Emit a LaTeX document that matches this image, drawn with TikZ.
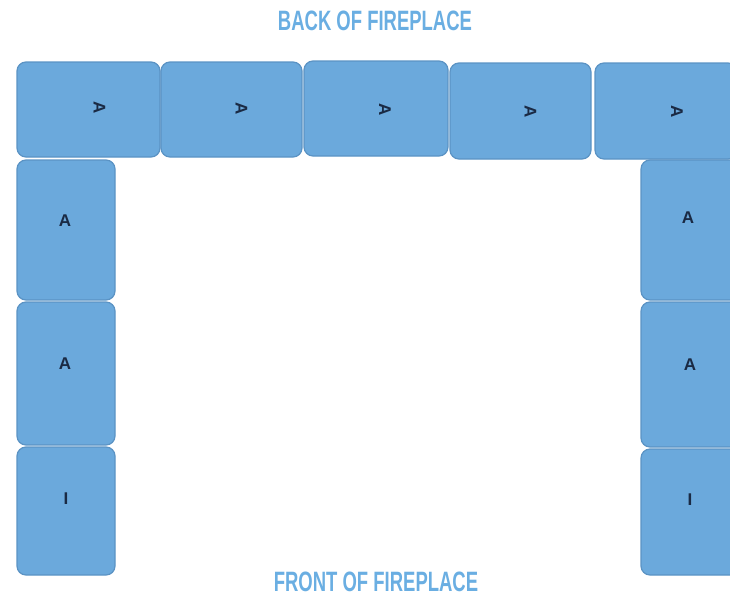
\documentclass[tikz,border=0pt]{standalone}
\usepackage{fontspec}
\setsansfont{Liberation Sans}
\newfontfamily\titlefont[FakeStretch=0.66]{Liberation Sans}
\definecolor{brickfill}{HTML}{6BA9DC}
\definecolor{brickline}{HTML}{5B93C4}
\definecolor{titleblue}{HTML}{6AAEE2}
\definecolor{tagcolor}{HTML}{1A2A44}
\begin{document}
\begin{tikzpicture}[x=1pt,y=-1pt,
        brick/.style={draw=brickline,fill=brickfill,line width=1.2pt,
            rounded corners=9pt,inner sep=0pt},
        tagtop/.style={font=\sffamily\bfseries\fontsize{17}{17}\selectfont,
            text=tagcolor,rotate=-90,inner sep=0pt},
        tagside/.style={font=\sffamily\bfseries\fontsize{17}{17}\selectfont,
            text=tagcolor,inner sep=0pt},
        heading/.style={font=\titlefont\bfseries\fontsize{28}{28}\selectfont,
            text=titleblue,inner sep=0pt}]
\useasboundingbox (0,0) rectangle (730,597);
\clip (0,0) rectangle (730,597);

\node[heading] (back) at (375,21) {BACK OF FIREPLACE};
\node[heading] (front) at (376,582) {FRONT OF FIREPLACE};

% back row
\node[brick, minimum width=143, minimum height=95] (back1) at (88.5,109.5) {};
\node[brick, minimum width=141, minimum height=95] (back2) at (231.5,109.5) {};
\node[brick, minimum width=144, minimum height=95] (back3) at (376,108.5) {};
\node[brick, minimum width=141, minimum height=96] (back4) at (520.5,111) {};
\node[brick, minimum width=142, minimum height=96] (back5) at (666,111) {};

\node[tagtop] (tb1) at ([xshift=11pt,yshift=2pt]back1.center) {A};
\node[tagtop] (tb2) at ([xshift=10pt,yshift=1pt]back2.center) {A};
\node[tagtop] (tb3) at ([xshift=9pt,yshift=-1pt]back3.center) {A};
\node[tagtop] (tb4) at ([xshift=10pt,yshift=-1pt]back4.center) {A};
\node[tagtop] (tb5) at ([xshift=11pt,yshift=-1pt]back5.center) {A};

% left side
\node[brick, minimum width=98, minimum height=140] (left1) at (66,230) {};
\node[brick, minimum width=98, minimum height=143] (left2) at (66,373.5) {};
\node[brick, minimum width=98, minimum height=128] (left3) at (66,511) {};

\node[tagside] (tl1) at ([xshift=-1pt,yshift=9pt]left1.center) {A};
\node[tagside] (tl2) at ([xshift=-1pt,yshift=10pt]left2.center) {A};
\node[tagside] (tl3) at ([yshift=12pt]left3.center) {I};

% right side
\node[brick, minimum width=98, minimum height=140] (right1) at (690,230) {};
\node[brick, minimum width=98, minimum height=145] (right2) at (690,374.5) {};
\node[brick, minimum width=98, minimum height=126] (right3) at (690,512) {};

\node[tagside] (tr1) at ([xshift=-2pt,yshift=12pt]right1.center) {A};
\node[tagside] (tr2) at ([yshift=10pt]right2.center) {A};
\node[tagside] (tr3) at ([yshift=12pt]right3.center) {I};

\end{tikzpicture}
\end{document}
